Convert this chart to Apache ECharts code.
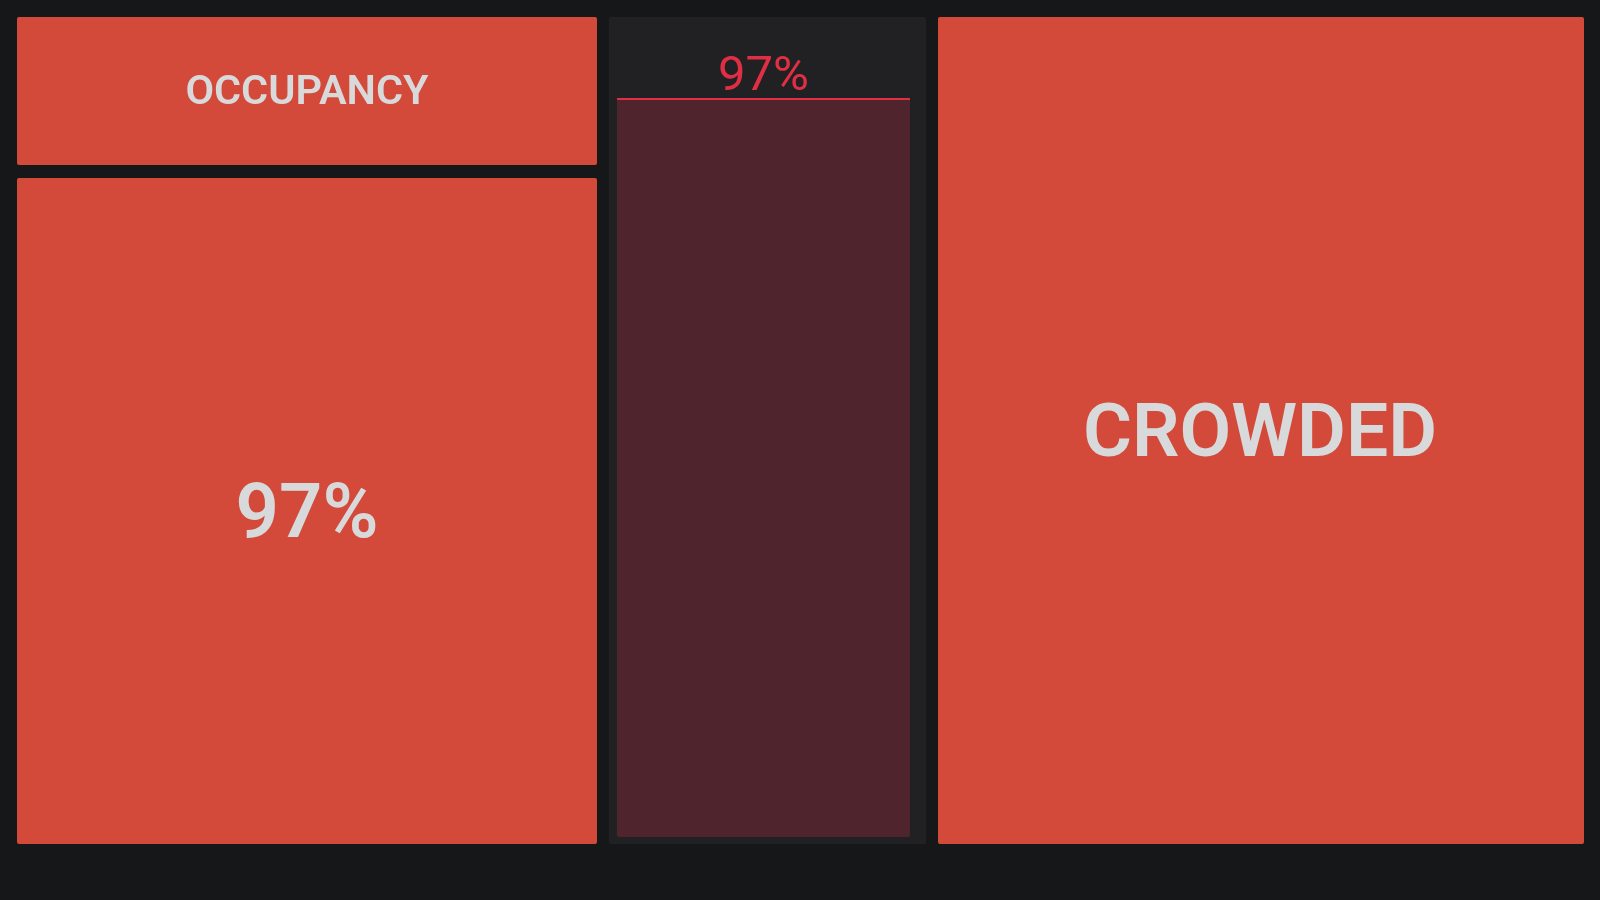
<!DOCTYPE html>
<html>
<head>
<meta charset="utf-8">
<script src="https://cdn.jsdelivr.net/npm/echarts@6/dist/echarts.min.js"></script>
<style>
html,body{margin:0;padding:0;background:#161719;}
#chart{width:1600px;height:900px;}
</style>
</head>
<body>
<div id="chart"></div>
<script>
// ---- data ----
const titleText = 'OCCUPANCY';
const categories = ['Occupancy'];
const occupancyValues = [97];
const statusText = 'CROWDED';
const valueMax = 100;

// ---- colours ----
const BG = '#161719';
const PANEL_RED = '#D44A3A';
const PANEL_DARK = '#212124';
const TEXT = '#D8D9DA';
const BAR_RED = '#E02F44';
const FONT = 'Roboto, "Noto Sans", sans-serif';

const chart = echarts.init(document.getElementById('chart'), null, {renderer: 'canvas'});

const pct = occupancyValues[0] + '%';

const option = {
  backgroundColor: BG,
  animation: false,
  grid: {left: 617, right: 690, top: 76, bottom: 63, containLabel: false},
  xAxis: {
    type: 'category',
    data: categories,
    show: false,
    boundaryGap: true
  },
  yAxis: {
    type: 'value',
    min: 0,
    max: valueMax,
    show: false
  },
  graphic: [
    {type: 'rect', z: -10, shape: {x: 17, y: 17, width: 580, height: 148, r: 2}, style: {fill: PANEL_RED}},
    {type: 'rect', z: -10, shape: {x: 17, y: 178, width: 580, height: 666, r: 2}, style: {fill: PANEL_RED}},
    {type: 'rect', z: -10, shape: {x: 609, y: 17, width: 317, height: 827, r: 2}, style: {fill: PANEL_DARK}},
    {type: 'rect', z: -10, shape: {x: 938, y: 17, width: 646, height: 827, r: 2}, style: {fill: PANEL_RED}},
    {type: 'text', z: 10, x: 307, y: 94, style: {text: titleText, fill: TEXT, font: '600 41.5px ' + FONT, align: 'center', verticalAlign: 'middle'}},
    {type: 'text', z: 10, x: 307, y: 518, style: {text: pct, fill: TEXT, font: '600 76px ' + FONT, align: 'center', verticalAlign: 'middle'}},
    {type: 'text', z: 10, x: 1260, y: 437, style: {text: statusText, fill: TEXT, font: '600 75px ' + FONT, align: 'center', verticalAlign: 'middle'}}
  ],
  series: [{
    type: 'bar',
    data: occupancyValues,
    barWidth: '100%',
    barCategoryGap: 0,
    itemStyle: {color: 'rgba(224,47,68,0.25)', borderRadius: 2},
    label: {
      show: true,
      position: 'top',
      distance: 2,
      offset: [0, 5],
      formatter: '{c}%',
      color: BAR_RED,
      fontFamily: FONT,
      fontSize: 49,
      fontWeight: 400
    },
    markLine: {
      silent: true,
      symbol: ['none', 'none'],
      label: {show: false},
      lineStyle: {color: BAR_RED, width: 2, type: 'solid'},
      data: [{yAxis: occupancyValues[0]}]
    }
  }]
};
chart.setOption(option);
</script>
</body>
</html>
